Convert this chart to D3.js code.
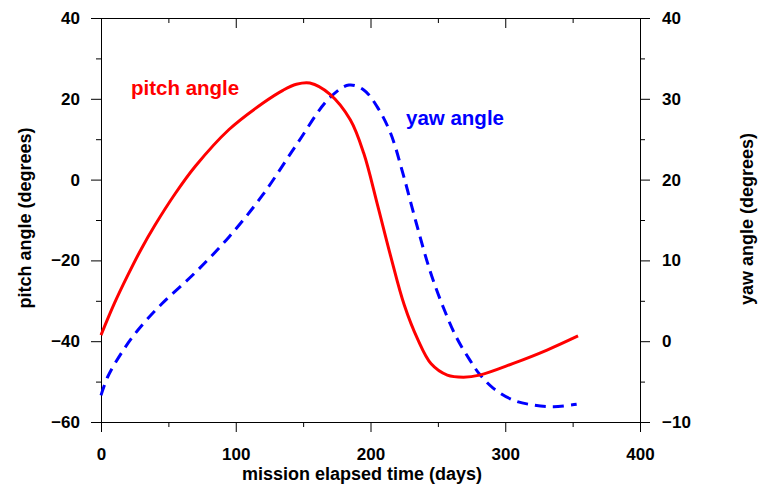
<!DOCTYPE html>
<html>
<head>
<meta charset="utf-8">
<script src="https://cdn.jsdelivr.net/npm/d3@7"></script>
<style>
  body { margin: 0; background: #fff; }
  svg { display: block; font-family: "Liberation Sans", Arial, Helvetica, sans-serif; font-weight: bold; }
</style>
</head>
<body>
<svg id="chart" width="761" height="486"></svg>
<script>
// pitch angle (left axis)
const pitchDays = [0, 10, 20, 30, 40, 55, 70, 95, 120, 135, 145, 155, 170, 185, 195, 205, 215, 225, 235, 245, 257, 269, 281, 306, 331, 354];
const pitchDeg  = [-38.5, -30.6, -23.6, -17.1, -11.3, -3.5, 3.3, 12.4, 18.9, 22.1, 23.6, 23.9, 21.1, 14.8, 6.5, -6, -19, -31, -39.5, -45.6, -48.4, -48.9, -48.4, -45.5, -42.2, -38.7];

// yaw angle (right axis)
const yawDays = [0, 5, 15, 27, 45, 70, 95, 120, 145, 169, 184, 195, 205, 215, 224, 234, 244, 254, 264, 274, 281, 291, 306, 321, 336, 353];
const yawDeg  = [-6.7, -4.4, -1.5, 1.3, 4.6, 8.5, 12.9, 18.1, 24.3, 30.0, 31.7, 31.1, 29.0, 25.7, 20.8, 14.6, 8.8, 4.2, 0.4, -2.4, -4.1, -5.8, -7.3, -7.9, -8.1, -7.8];

// ticks
const xMajor = [0, 100, 200, 300, 400];
const xMinor = [50, 150, 250, 350];
const leftMajor = [-60, -40, -20, 0, 20, 40];
const leftMinor = [-50, -30, -10, 10, 30];
const rightMajor = [-10, 0, 10, 20, 30, 40];
const rightMinor = [-5, 5, 15, 25, 35];

const svg = d3.select('#chart');
const L = 101, R = 640, T = 18, B = 422;

const x = d3.scaleLinear().domain([0, 400]).range([L, R]);
const yL = d3.scaleLinear().domain([-60, 40]).range([B, T]);
const yR = d3.scaleLinear().domain([-10, 40]).range([B, T]);

function styleAxis(g, size) {
  g.attr('font-family', null).attr('font-size', null);
  g.selectAll('text').attr('font-size', size).attr('fill', '#000');
  g.selectAll('line').attr('stroke', '#000');
  g.select('.domain').attr('stroke', '#000');
}

// bottom axis
svg.append('g').attr('transform', `translate(0,${B})`)
  .call(d3.axisBottom(x).tickValues(xMajor).tickSize(10).tickSizeOuter(0).tickPadding(16).tickFormat(d3.format('d')))
  .call(g => styleAxis(g, 17));
svg.append('g').attr('transform', `translate(0,${B})`)
  .call(d3.axisBottom(x).tickValues(xMinor).tickSize(5).tickSizeOuter(0).tickFormat(''))
  .call(g => styleAxis(g, 17));

// top axis (ticks pointing inward)
svg.append('g').attr('transform', `translate(0,${T})`)
  .call(d3.axisTop(x).tickValues(xMajor).tickSize(-10).tickSizeOuter(0).tickFormat(''))
  .call(g => styleAxis(g, 17));
svg.append('g').attr('transform', `translate(0,${T})`)
  .call(d3.axisTop(x).tickValues(xMinor).tickSize(-5).tickSizeOuter(0).tickFormat(''))
  .call(g => styleAxis(g, 17));

// left axis
svg.append('g').attr('transform', `translate(${L},0)`)
  .call(d3.axisLeft(yL).tickValues(leftMajor).tickSize(10).tickSizeOuter(0).tickPadding(11).tickFormat(d3.format('d')))
  .call(g => styleAxis(g, 17));
svg.append('g').attr('transform', `translate(${L},0)`)
  .call(d3.axisLeft(yL).tickValues(leftMinor).tickSize(5).tickSizeOuter(0).tickFormat(''))
  .call(g => styleAxis(g, 17));

// right axis
svg.append('g').attr('transform', `translate(${R},0)`)
  .call(d3.axisRight(yR).tickValues(rightMajor).tickSize(10).tickSizeOuter(0).tickPadding(12).tickFormat(d3.format('d')))
  .call(g => styleAxis(g, 17));
svg.append('g').attr('transform', `translate(${R},0)`)
  .call(d3.axisRight(yR).tickValues(rightMinor).tickSize(5).tickSizeOuter(0).tickFormat(''))
  .call(g => styleAxis(g, 17));

// curves
const pitchLine = d3.line()
  .x((d, i) => x(pitchDays[i]))
  .y(d => yL(d))
  .curve(d3.curveCatmullRom.alpha(0.5));
const yawLine = d3.line()
  .x((d, i) => x(yawDays[i]))
  .y(d => yR(d))
  .curve(d3.curveCatmullRom.alpha(0.5));

svg.append('path').attr('d', yawLine(yawDeg))
  .attr('fill', 'none').attr('stroke', '#0000ff').attr('stroke-width', 3)
  .attr('stroke-dasharray', '11,7');
svg.append('path').attr('d', pitchLine(pitchDeg))
  .attr('fill', 'none').attr('stroke', '#ff0000').attr('stroke-width', 3);

// labels inside the plot
svg.append('text').attr('x', 131).attr('y', 95).attr('font-size', 20.5).attr('fill', '#ff0000').text('pitch angle');
svg.append('text').attr('x', 406).attr('y', 125).attr('font-size', 20.5).attr('fill', '#0000ff').text('yaw angle');

// axis titles
svg.append('text').attr('x', 362).attr('y', 480).attr('text-anchor', 'middle').attr('font-size', 18)
  .text('mission elapsed time (days)');
svg.append('text').attr('transform', 'translate(31,218) rotate(-90)').attr('text-anchor', 'middle').attr('font-size', 18)
  .text('pitch angle (degrees)');
svg.append('text').attr('transform', 'translate(753,219) rotate(-90)').attr('text-anchor', 'middle').attr('font-size', 18)
  .text('yaw angle (degrees)');
</script>
</body>
</html>
